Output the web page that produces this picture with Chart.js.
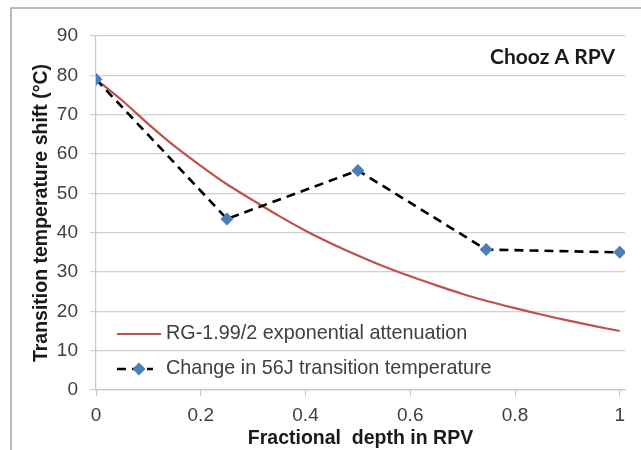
<!DOCTYPE html>
<html>
<head>
<meta charset="utf-8">
<script src="https://cdn.jsdelivr.net/npm/chart.js@4"></script>
<style>
  html, body { margin: 0; padding: 0; background: #fff; }
  #wrap { width: 641px; height: 450px; }
</style>
</head>
<body>
<div id="wrap"><canvas id="myChart" width="641" height="450"></canvas></div>
<script>
// measured points (fractional depth, shift in °C)
const depth = [0, 0.25, 0.5, 0.745, 1];
const shift = [79, 43.5, 55.8, 35.7, 35];

// RG-1.99/2 curve
const curveDepth = [0, 0.05, 0.1, 0.15, 0.2, 0.25, 0.3, 0.35, 0.4, 0.45, 0.5,
  0.55, 0.6, 0.65, 0.7, 0.75, 0.8, 0.85, 0.9, 0.95, 1];
const curveShift = [79, 73.6, 67.6, 62, 57, 52.3, 48.2, 44.2, 40.5, 37.2, 34.2,
  31.4, 28.9, 26.6, 24.4, 22.5, 20.8, 19.2, 17.7, 16.3, 15];

const xTicks = [0, 0.2, 0.4, 0.6, 0.8, 1];
const yTicks = [0, 10, 20, 30, 40, 50, 60, 70, 80, 90];

const curveLabel = "RG-1.99/2 exponential attenuation";
const pointsLabel = "Change in 56J transition temperature";

function toXY(xs, ys) {
  let out = [];
  for (let i = 0; i < xs.length; i++) {
    out.push({ x: xs[i], y: ys[i] });
  }
  return out;
}

// outer frame + text box + legend inside the plot
const decor = {
  id: "decor",
  beforeDraw(chart) {
    const ctx = chart.ctx;
    ctx.save();
    ctx.fillStyle = "#fff";
    ctx.fillRect(0, 0, chart.width, chart.height);
    ctx.strokeStyle = "#a6a6a6";
    ctx.lineWidth = 1.5;
    ctx.beginPath();
    ctx.moveTo(11, chart.height);
    ctx.lineTo(11, 8);
    ctx.lineTo(chart.width, 8);
    ctx.stroke();
    ctx.restore();
  },
  afterDraw(chart) {
    const ctx = chart.ctx;
    const area = chart.chartArea;
    ctx.save();
    ctx.fillStyle = "#1a1a1a";
    ctx.font = "bold 21px Lato";
    ctx.textAlign = "right";
    ctx.textBaseline = "middle";
    ctx.fillText("Chooz A RPV", area.right - 10, area.top + 21);

    const ds = chart.data.datasets;
    const x0 = area.left + 21;
    const rows = [area.bottom - 56, area.bottom - 21];
    ctx.font = "19.8px 'Liberation Sans', Arial";
    ctx.textAlign = "left";
    ctx.fillStyle = "#404040";

    // red line entry
    ctx.strokeStyle = ds[0].borderColor;
    ctx.lineWidth = ds[0].borderWidth;
    ctx.beginPath();
    ctx.moveTo(x0, rows[0]);
    ctx.lineTo(x0 + 44, rows[0]);
    ctx.stroke();
    ctx.fillText(ds[0].label, x0 + 49, rows[0]);

    // dashed + diamond entry
    ctx.strokeStyle = ds[1].borderColor;
    ctx.lineWidth = ds[1].borderWidth;
    ctx.setLineDash(ds[1].borderDash);
    ctx.beginPath();
    ctx.moveTo(x0, rows[1]);
    ctx.lineTo(x0 + 36, rows[1]);
    ctx.stroke();
    ctx.setLineDash([]);
    const cx = x0 + 22, r = ds[1].pointRadius;
    ctx.fillStyle = ds[1].pointBackgroundColor;
    ctx.beginPath();
    ctx.moveTo(cx, rows[1] - r);
    ctx.lineTo(cx + r, rows[1]);
    ctx.lineTo(cx, rows[1] + r);
    ctx.lineTo(cx - r, rows[1]);
    ctx.closePath();
    ctx.fill();
    ctx.fillStyle = "#404040";
    ctx.fillText(ds[1].label, x0 + 49, rows[1]);
    ctx.restore();
  }
};

const ctx = document.getElementById("myChart");

new Chart(ctx, {
  type: "line",
  data: {
    datasets: [
      {
        label: curveLabel,
        data: toXY(curveDepth, curveShift),
        borderColor: "#c0504d",
        borderWidth: 2.2,
        pointRadius: 0,
        tension: 0.3,
        order: 2,
      },
      {
        label: pointsLabel,
        data: toXY(depth, shift),
        borderColor: "#000000",
        borderWidth: 2.6,
        borderDash: [9, 6],
        pointStyle: "rectRot",
        pointRadius: 6.5,
        pointBorderWidth: 0,
        pointBackgroundColor: "#4a7ebb",
        pointBorderColor: "#4a7ebb",
        tension: 0,
        order: 1,
      },
    ],
  },
  options: {
    responsive: false,
    animation: false,
    layout: { padding: { left: 16, right: 16, top: 36, bottom: 0 } },
    plugins: {
      legend: { display: false },
      tooltip: { enabled: false },
    },
    scales: {
      x: {
        type: "linear",
        min: 0,
        max: 1.01,
        afterBuildTicks(scale) {
          scale.ticks = xTicks.map(v => ({ value: v }));
        },
        afterFit(scale) { scale.height = 60; },
        grid: {
          drawOnChartArea: false,
          drawTicks: true,
          tickLength: 6,
          color: "#c8c8c8",
        },
        border: { color: "#c8c8c8", width: 1.2 },
        ticks: {
          padding: 8,
          color: "#404040",
          maxRotation: 0,
          font: { family: "'Liberation Sans', Arial", size: 19 },
          callback: v => String(v),
        },
        title: {
          display: true,
          text: "Fractional  depth in RPV",
          color: "#1a1a1a",
          padding: { top: 0, bottom: 0 },
          font: { family: "'Liberation Sans', Arial", size: 19.5, weight: "bold" },
        },
      },
      y: {
        min: 0,
        max: 90,
        afterBuildTicks(scale) {
          scale.ticks = yTicks.map(v => ({ value: v }));
        },
        afterFit(scale) { scale.width = 80; },
        grid: {
          color: "#d0d0d0",
          lineWidth: 1.2,
          drawTicks: true,
          tickLength: 6,
        },
        border: { color: "#c8c8c8", width: 1.2 },
        ticks: {
          padding: 12,
          color: "#404040",
          font: { family: "'Liberation Sans', Arial", size: 19 },
        },
        title: {
          display: true,
          text: "Transition temperature shift (°C)",
          color: "#1a1a1a",
          padding: { top: 14, bottom: 0 },
          font: { family: "'Liberation Sans', Arial", size: 19.5, weight: "bold" },
        },
      },
    },
  },
  plugins: [decor],
});
</script>
</body>
</html>
